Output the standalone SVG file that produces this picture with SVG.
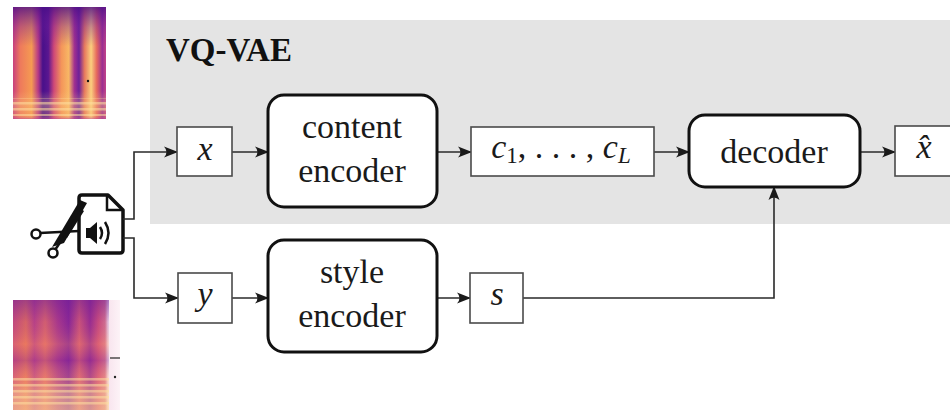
<svg xmlns="http://www.w3.org/2000/svg" width="950" height="411" viewBox="0 0 950 411">
  <defs>
    <style>
      .block { fill: #fff; stroke: #111; stroke-width: 3; }
      .var { fill: #fff; stroke: #4a4a4a; stroke-width: 1.6; }
      .wire { fill: none; stroke: #2a2a2a; stroke-width: 1.6; }
      .ink { fill: #111; stroke: none; }
      .line { fill: none; stroke: #111; stroke-width: 2.5; }
    </style>
    <marker id="arrow" viewBox="0 0 14 12" refX="13" refY="6" markerWidth="14" markerHeight="12" markerUnits="userSpaceOnUse" orient="auto">
      <path d="M0,0.5 L14,6 L0,11.5 Q5,6 0,0.5 Z" fill="#1a1a1a"/>
    </marker>

    <!-- spectrogram colour columns (magma-like palette) -->
    <linearGradient id="colsA" x1="13" y1="0" x2="106" y2="0" gradientUnits="userSpaceOnUse">
      <stop offset="0.00" stop-color="#c8407e"/>
      <stop offset="0.08" stop-color="#ee7a5c"/>
      <stop offset="0.20" stop-color="#f59a52"/>
      <stop offset="0.27" stop-color="#b73a86"/>
      <stop offset="0.32" stop-color="#48108a"/>
      <stop offset="0.38" stop-color="#5a1690"/>
      <stop offset="0.44" stop-color="#cf4878"/>
      <stop offset="0.52" stop-color="#f4955a"/>
      <stop offset="0.60" stop-color="#f8b765"/>
      <stop offset="0.66" stop-color="#a2318f"/>
      <stop offset="0.71" stop-color="#6c2099"/>
      <stop offset="0.77" stop-color="#e77a5e"/>
      <stop offset="0.84" stop-color="#fbcf7e"/>
      <stop offset="0.90" stop-color="#e6695e"/>
      <stop offset="0.96" stop-color="#9b2f92"/>
      <stop offset="1.00" stop-color="#c2448a"/>
    </linearGradient>
    <linearGradient id="fadeA" x1="0" y1="7" x2="0" y2="119" gradientUnits="userSpaceOnUse">
      <stop offset="0" stop-color="#4a0e88" stop-opacity="0.8"/>
      <stop offset="0.18" stop-color="#6a1b9a" stop-opacity="0.35"/>
      <stop offset="0.35" stop-color="#6a1b9a" stop-opacity="0"/>
      <stop offset="0.75" stop-color="#fbd38a" stop-opacity="0"/>
      <stop offset="0.88" stop-color="#fbd38a" stop-opacity="0.35"/>
      <stop offset="0.97" stop-color="#f6b070" stop-opacity="0.2"/>
      <stop offset="1" stop-color="#c04a9a" stop-opacity="0.6"/>
    </linearGradient>
    <linearGradient id="colsB" x1="13" y1="0" x2="120" y2="0" gradientUnits="userSpaceOnUse">
      <stop offset="0.00" stop-color="#d0507a"/>
      <stop offset="0.12" stop-color="#e8705e"/>
      <stop offset="0.20" stop-color="#c44884"/>
      <stop offset="0.30" stop-color="#e46a6a"/>
      <stop offset="0.42" stop-color="#b23c8a"/>
      <stop offset="0.52" stop-color="#8e2896"/>
      <stop offset="0.62" stop-color="#d85a76"/>
      <stop offset="0.72" stop-color="#a0308e"/>
      <stop offset="0.80" stop-color="#d8547a"/>
      <stop offset="0.86" stop-color="#e07a8e"/>
      <stop offset="0.89" stop-color="#f8e4ee"/>
      <stop offset="1.00" stop-color="#fdf3f7"/>
    </linearGradient>
    <linearGradient id="fadeB" x1="0" y1="300" x2="0" y2="410" gradientUnits="userSpaceOnUse">
      <stop offset="0" stop-color="#6a1b9a" stop-opacity="0.55"/>
      <stop offset="0.2" stop-color="#6a1b9a" stop-opacity="0.15"/>
      <stop offset="0.4" stop-color="#f29060" stop-opacity="0.25"/>
      <stop offset="0.55" stop-color="#7a2298" stop-opacity="0.3"/>
      <stop offset="0.7" stop-color="#f8b070" stop-opacity="0.2"/>
      <stop offset="0.85" stop-color="#fbd494" stop-opacity="0.5"/>
      <stop offset="1" stop-color="#fbd494" stop-opacity="0.6"/>
    </linearGradient>
    <pattern id="bands" x="0" y="0" width="6" height="6" patternUnits="userSpaceOnUse">
      <rect y="0" width="6" height="2.5" fill="#fde0a0" fill-opacity="0.55"/>
    </pattern>
  </defs>

  <!-- VQ-VAE panel -->
  <rect x="150" y="20" width="810" height="204" fill="#e4e4e4"/>
  <text font-family="Liberation Serif, serif" font-weight="bold" font-size="33" fill="#111" x="166" y="61">VQ-VAE</text>

  <!-- spectrogram of the first segment -->
  <g id="spec-x">
    <rect x="13" y="7" width="93" height="112" fill="url(#colsA)"/>
    <rect x="13" y="7" width="93" height="112" fill="url(#fadeA)"/>
    <rect x="13" y="98" width="93" height="18" fill="url(#bands)"/>
    <circle cx="88" cy="81" r="1.2" fill="#111"/>
  </g>

  <!-- spectrogram of the second segment -->
  <g id="spec-y">
    <rect x="13" y="300" width="107" height="110" fill="url(#colsB)"/>
    <rect x="13" y="300" width="96" height="110" fill="url(#fadeB)"/>
    <rect x="13" y="378" width="96" height="30" fill="url(#bands)"/>
    <line x1="110" y1="358" x2="120" y2="358" stroke="#222" stroke-width="1.2"/>
    <circle cx="115" cy="377" r="1.2" fill="#222"/>
  </g>

  <!-- audio file being cut -->
  <g id="audio-cut">
    <path d="M82,195 L108,195 L123,210 L123,250 Q123,253 120,253 L82,253 Q79,253 79,250 L79,198 Q79,195 82,195 Z" fill="#fff" stroke="#111" stroke-width="3.5" stroke-linejoin="round"/>
    <path class="line" d="M107,196 L107,210 L122,210"/>
    <rect class="ink" x="86" y="228" width="5" height="10"/>
    <path class="ink" d="M90,228 L97,222 L97,244 L90,238 Z"/>
    <path class="line" d="M100,227 Q104,233 100,239"/>
    <path class="line" d="M105,222 Q112,233 105,244"/>
    <path class="line" d="M40,233 L79,231"/>
    <path class="line" d="M55,250 L63,238"/>
    <path class="ink" d="M52,247 L80,200 L87,203 L64,243 Z"/>
    <path class="ink" d="M62,238 L81,209 L84,211 L67,238 Z"/>
    <circle cx="36" cy="234" r="4.5" fill="#fff" stroke="#111" stroke-width="2.5"/>
    <circle cx="53" cy="253" r="4.5" fill="#fff" stroke="#111" stroke-width="2.5"/>
  </g>

  <!-- connectors -->
  <g id="connectors">
    <path class="wire" d="M123,219 L134,219 L134,152 L177,152" marker-end="url(#arrow)"/>
    <path class="wire" d="M123,238 L134,238 L134,298 L178,298" marker-end="url(#arrow)"/>
    <path class="wire" d="M232,152 L268,152" marker-end="url(#arrow)"/>
    <path class="wire" d="M232,298 L268,298" marker-end="url(#arrow)"/>
    <path class="wire" d="M437,152 L471,152" marker-end="url(#arrow)"/>
    <path class="wire" d="M437,298 L470,298" marker-end="url(#arrow)"/>
    <path class="wire" d="M654,152 L689,152" marker-end="url(#arrow)"/>
    <path class="wire" d="M860,152 L895,152" marker-end="url(#arrow)"/>
    <path class="wire" d="M523,298 L774,298 L774,187" marker-end="url(#arrow)"/>
  </g>

  <!-- nodes -->
  <g font-family="Liberation Serif, serif" font-size="34" fill="#1a1a1a" text-anchor="middle">
    <g id="node-x">
      <rect class="var" x="177" y="127" width="55" height="49"/>
      <text font-style="italic" x="205" y="160">x</text>
    </g>
    <g id="node-content-encoder">
      <rect class="block" x="268" y="95" width="169" height="112" rx="16"/>
      <text x="352" y="138">content</text>
      <text x="352" y="182">encoder</text>
    </g>
    <g id="node-codes">
      <rect class="var" x="471" y="127" width="183" height="49"/>
      <text font-style="italic" x="561" y="158">c<tspan font-style="normal" font-size="23" dy="5">1</tspan><tspan font-style="normal" dy="-5">, . . . , </tspan>c<tspan font-size="23" dy="5">L</tspan></text>
    </g>
    <g id="node-decoder">
      <rect class="block" x="689" y="115" width="171" height="72" rx="16"/>
      <text x="774" y="163">decoder</text>
    </g>
    <g id="node-xhat">
      <rect class="var" x="895" y="126" width="62" height="50"/>
      <text font-style="italic" x="924" y="158">x&#x302;</text>
    </g>
    <g id="node-y">
      <rect class="var" x="178" y="273" width="54" height="50"/>
      <text font-style="italic" x="205" y="305">y</text>
    </g>
    <g id="node-style-encoder">
      <rect class="block" x="268" y="240" width="169" height="112" rx="16"/>
      <text x="352" y="283">style</text>
      <text x="352" y="327">encoder</text>
    </g>
    <g id="node-s">
      <rect class="var" x="470" y="273" width="53" height="50"/>
      <text font-style="italic" x="497" y="305">s</text>
    </g>
  </g>
</svg>
